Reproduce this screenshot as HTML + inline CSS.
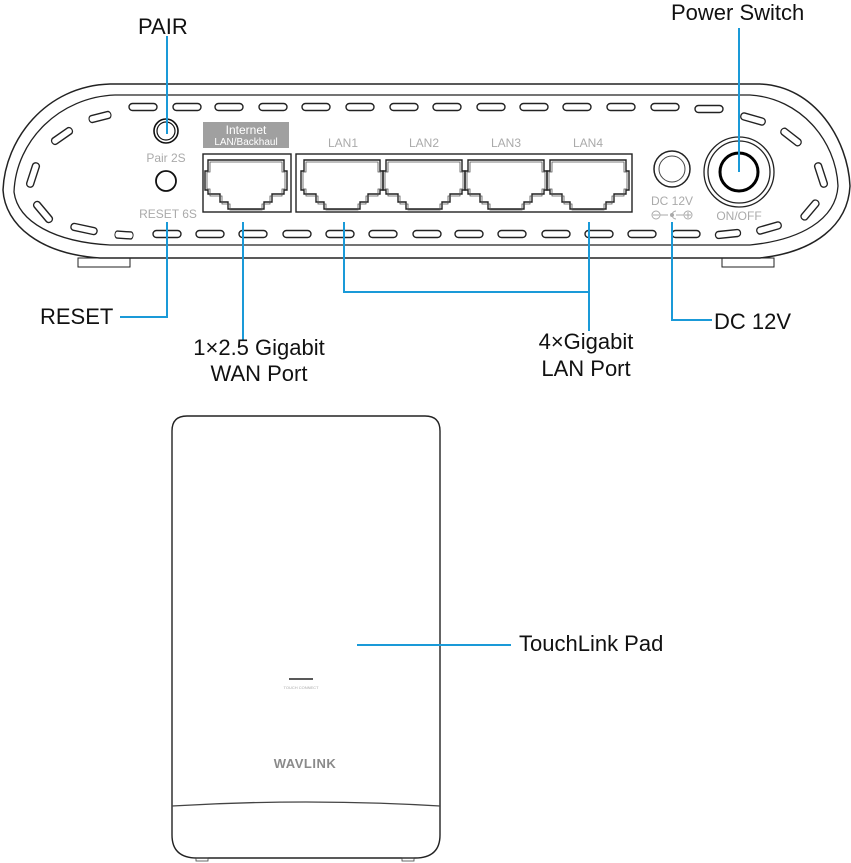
<!DOCTYPE html>
<html><head><meta charset="utf-8"><style>
html,body{margin:0;padding:0;background:#fff;}
svg{display:block;}
text{font-family:"Liberation Sans",Arial,sans-serif;}
</style></head><body>
<svg width="851" height="863" viewBox="0 0 851 863" xmlns="http://www.w3.org/2000/svg">
<defs>
<g id="port">
<path d="M2,3 H78 V14 H81 V33 H78 V37 H66 V45 H58 V52 H22 V45 H14 V37 H2 V33 H-1 V14 H2 Z" fill="none" stroke="#222" stroke-width="1.4"/>
<path d="M4,5 H76 V15 H79 V32 H76 V39 H64 V47 H56 V53 H24 V47 H16 V39 H4 V32 H1 V15 H4 Z" fill="none" stroke="#555" stroke-width="0.8"/>
</g>
<g id="slot"><rect x="-14" y="-3.5" width="28" height="7" rx="3.5" fill="#fff" stroke="#222" stroke-width="1.4"/></g>
</defs>

<!-- router body -->
<path d="M110,84 H760 C815,86 848,140 850,186 C848,225 815,252 760,258 H100 C40,254 5,225 3,190 C5,140 45,86 110,84 Z" fill="#fff" stroke="#222" stroke-width="1.5"/>
<path d="M115,95 H750 C800,98 836,140 838,186 C836,220 800,240 750,245 H110 C55,242 18,222 14,192 C16,140 60,97 115,95 Z" fill="none" stroke="#222" stroke-width="1.3"/>
<rect x="78" y="258" width="52" height="9" fill="none" stroke="#222" stroke-width="1"/>
<rect x="722" y="258" width="52" height="9" fill="none" stroke="#222" stroke-width="1"/>

<g>
<use href="#slot" x="143" y="107"/><use href="#slot" x="187" y="107"/><use href="#slot" x="229" y="107"/><use href="#slot" x="273" y="107"/><use href="#slot" x="316" y="107"/><use href="#slot" x="360" y="107"/><use href="#slot" x="404" y="107"/><use href="#slot" x="447" y="107"/><use href="#slot" x="491" y="107"/><use href="#slot" x="534" y="107"/><use href="#slot" x="577" y="107"/><use href="#slot" x="621" y="107"/><use href="#slot" x="665" y="107"/><use href="#slot" x="709" y="109"/>
</g>
<g>
<use href="#slot" x="167" y="234"/><use href="#slot" x="210" y="234"/><use href="#slot" x="253" y="234"/><use href="#slot" x="297" y="234"/><use href="#slot" x="340" y="234"/><use href="#slot" x="383" y="234"/><use href="#slot" x="427" y="234"/><use href="#slot" x="469" y="234"/><use href="#slot" x="512" y="234"/><use href="#slot" x="556" y="234"/><use href="#slot" x="599" y="234"/><use href="#slot" x="642" y="234"/><use href="#slot" x="686" y="234"/>
</g>
<use href="#slot" transform="translate(100,117) rotate(-14) scale(0.8,1)"/>
<use href="#slot" transform="translate(62,136) rotate(-35) scale(0.85,1)"/>
<use href="#slot" transform="translate(33,175) rotate(-72) scale(0.9,1)"/>
<use href="#slot" transform="translate(43,212) rotate(50) scale(0.9,1)"/>
<use href="#slot" transform="translate(84,229) rotate(12) scale(0.95,1)"/>
<use href="#slot" transform="translate(124,235) rotate(4) scale(0.65,1)"/>
<use href="#slot" transform="translate(753,119) rotate(16) scale(0.9,1)"/>
<use href="#slot" transform="translate(791,137) rotate(38) scale(0.85,1)"/>
<use href="#slot" transform="translate(821,175) rotate(72) scale(0.9,1)"/>
<use href="#slot" transform="translate(810,210) rotate(-50) scale(0.85,1)"/>
<use href="#slot" transform="translate(769,228) rotate(-16) scale(0.9,1)"/>
<use href="#slot" transform="translate(728,234) rotate(-6) scale(0.9,1)"/>

<circle cx="166" cy="131" r="12" fill="none" stroke="#111" stroke-width="1.6"/>
<circle cx="166" cy="131" r="9" fill="none" stroke="#111" stroke-width="1.2"/>
<circle cx="166" cy="181" r="10" fill="none" stroke="#111" stroke-width="1.8"/>
<text x="166" y="162" font-size="12" fill="#aaa" text-anchor="middle">Pair 2S</text>
<text x="168" y="218" font-size="12" fill="#aaa" text-anchor="middle">RESET 6S</text>

<rect x="203" y="122" width="86" height="26" fill="#a0a0a0"/>
<text x="246" y="134" font-size="12" fill="#fff" text-anchor="middle">Internet</text>
<text x="246" y="145" font-size="10" fill="#fff" text-anchor="middle">LAN/Backhaul</text>
<text x="343" y="147" font-size="12" fill="#aaa" text-anchor="middle">LAN1</text>
<text x="424" y="147" font-size="12" fill="#aaa" text-anchor="middle">LAN2</text>
<text x="506" y="147" font-size="12" fill="#aaa" text-anchor="middle">LAN3</text>
<text x="588" y="147" font-size="12" fill="#aaa" text-anchor="middle">LAN4</text>

<rect x="203" y="154" width="88" height="58" fill="none" stroke="#222" stroke-width="1.4"/>
<rect x="296" y="154" width="336" height="58" fill="none" stroke="#222" stroke-width="1.4"/>
<use href="#port" x="206" y="157"/>
<use href="#port" x="302" y="157"/>
<use href="#port" x="384" y="157"/>
<use href="#port" x="466" y="157"/>
<use href="#port" x="548" y="157"/>

<circle cx="672" cy="169" r="18" fill="none" stroke="#222" stroke-width="1.5"/>
<circle cx="672" cy="169" r="13" fill="none" stroke="#444" stroke-width="1"/>
<text x="672" y="205" font-size="12" fill="#aaa" text-anchor="middle">DC 12V</text>
<g stroke="#aaa" fill="none" stroke-width="1">
<circle cx="656" cy="215" r="4"/><line x1="653" y1="215" x2="659" y2="215"/>
<line x1="660" y1="215" x2="668" y2="215"/>
<path d="M676,211 A4,4 0 1,0 676,219"/><circle cx="672" cy="215" r="1.5" fill="#aaa"/>
<line x1="676" y1="215" x2="684" y2="215"/>
<circle cx="688" cy="215" r="4"/><line x1="685" y1="215" x2="691" y2="215"/><line x1="688" y1="212" x2="688" y2="218"/>
</g>

<circle cx="739" cy="172" r="35" fill="none" stroke="#222" stroke-width="1.3"/>
<circle cx="739" cy="172" r="31" fill="none" stroke="#222" stroke-width="1.3"/>
<circle cx="739" cy="172" r="19" fill="none" stroke="#000" stroke-width="3"/>
<text x="739" y="220" font-size="12" fill="#aaa" text-anchor="middle">ON/OFF</text>

<!-- TouchLink pad -->
<path d="M187,416 H425 Q440,416 440,431 V835 Q440,858 415,858 H197 Q172,858 172,835 V431 Q172,416 187,416 Z" fill="#fff" stroke="#222" stroke-width="1.4"/>
<path d="M172,806 Q306,798 440,806" fill="none" stroke="#444" stroke-width="1.3"/>
<line x1="289" y1="679" x2="313" y2="679" stroke="#222" stroke-width="1.5"/>
<text x="301" y="689" font-size="4" fill="#aaa" text-anchor="middle">TOUCH CONNECT</text>
<text x="305" y="768" font-size="13" font-weight="bold" fill="#8a8a8a" text-anchor="middle" letter-spacing="0.5">WAVLINK</text>
<rect x="196" y="858" width="12" height="3" fill="none" stroke="#444" stroke-width="0.8"/>
<rect x="402" y="858" width="12" height="3" fill="none" stroke="#444" stroke-width="0.8"/>

<g stroke="#1a9ad8" stroke-width="2" fill="none">
<line x1="167" y1="36" x2="167" y2="134"/>
<polyline points="167,222 167,317 120,317"/>
<line x1="243" y1="222" x2="243" y2="340"/>
<polyline points="344,222 344,292 589,292"/>
<line x1="589" y1="222" x2="589" y2="331"/>
<polyline points="672,222 672,320 712,320"/>
<line x1="739" y1="28" x2="739" y2="172"/>
<line x1="357" y1="645" x2="511" y2="645"/>
</g>

<g font-size="22" fill="#111">
<text x="138" y="34">PAIR</text>
<text x="671" y="20">Power Switch</text>
<text x="40" y="324">RESET</text>
<text x="259" y="355" text-anchor="middle">1×2.5 Gigabit</text>
<text x="259" y="381" text-anchor="middle">WAN Port</text>
<text x="586" y="349" text-anchor="middle">4×Gigabit</text>
<text x="586" y="376" text-anchor="middle">LAN Port</text>
<text x="714" y="329">DC 12V</text>
<text x="519" y="651">TouchLink Pad</text>
</g>
</svg>
</body></html>
